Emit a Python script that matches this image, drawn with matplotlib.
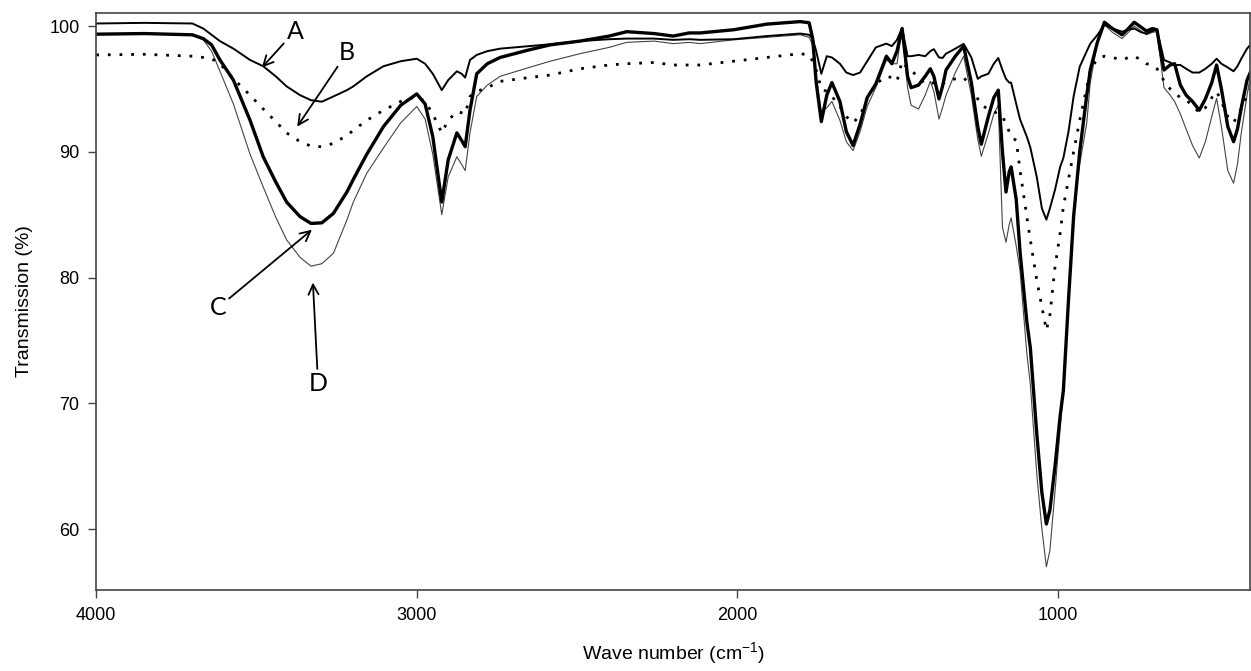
import numpy as np
import matplotlib.pyplot as plt

# FTIR transmission spectra, four samples A-D

wavenumber = [4000, 3850, 3700, 3666, 3640, 3614, 3572, 3520, 3479, 3440, 3406, 3364, 3330, 3296,
              3260, 3218, 3198, 3156, 3104, 3050, 3000, 2974, 2950, 2922, 2902, 2875, 2860, 2849,
              2834, 2813, 2780, 2740, 2650, 2584, 2491, 2400, 2345, 2260, 2200, 2150, 2116, 2012,
              1908, 1804, 1776, 1765, 1754, 1738, 1721, 1705, 1680, 1660, 1639, 1617, 1595, 1568,
              1535, 1518, 1502, 1486, 1469, 1458, 1435, 1414, 1398, 1387, 1371, 1360, 1349, 1320,
              1294, 1270, 1250, 1239, 1217, 1200, 1186, 1173, 1162, 1152, 1146, 1130, 1118, 1097,
              1086, 1066, 1050, 1036, 1025, 1009, 993, 983, 967, 951, 932, 910, 899, 877,
              855, 830, 800, 780, 762, 740, 724, 705, 691, 680, 669, 650, 636, 618,
              600, 580, 559, 540, 520, 505, 490, 470, 452, 440, 428, 410, 400]

trans_A = [100.2, 100.25, 100.2, 99.8, 99.3, 98.8, 98.2, 97.3, 96.8, 96.0, 95.2, 94.5, 94.1, 93.98,
           94.4, 94.9, 95.2, 96.0, 96.8, 97.2, 97.4, 97.0, 96.2, 94.9, 95.7, 96.4, 96.2, 95.9,
           97.3, 97.7, 98.0, 98.2, 98.4, 98.55, 98.8, 98.95, 99.0, 99.0, 98.9, 98.95, 98.9, 98.95,
           99.2, 99.4, 99.3, 99.0, 98.0, 96.2, 97.6, 97.5, 97.0, 96.3, 96.1, 96.3, 97.2, 98.3,
           98.6, 98.4, 98.9, 99.84, 97.6, 97.6, 97.7, 97.6, 98.0, 98.16, 97.5, 97.46, 97.8, 98.2,
           98.58, 97.5, 95.8, 96.0, 96.2, 97.0, 97.46, 96.5, 95.8, 95.5, 95.5, 93.8, 92.57, 91.2,
           90.34, 88.0, 85.5, 84.6, 85.5, 86.98, 88.8, 89.5, 91.6, 94.4, 96.76, 98.0, 98.6, 99.28,
           100.1, 99.8, 99.55, 99.7, 99.8, 99.5, 99.4, 99.6, 99.7, 98.5, 97.3, 97.1, 96.9, 96.9,
           96.6, 96.3, 96.3, 96.6, 97.0, 97.4, 97.0, 96.7, 96.4, 96.8, 97.4, 98.2, 98.5]

trans_B = [97.7, 97.75, 97.6, 97.5, 97.4, 97.0, 95.8, 94.5, 93.4, 92.4, 91.5, 90.8, 90.45, 90.4,
           90.67, 91.3, 91.7, 92.5, 93.3, 94.0, 94.4, 94.0, 93.0, 91.5, 92.5, 93.2, 93.1, 93.0,
           94.4, 94.8, 95.1, 95.6, 95.9, 96.1, 96.6, 96.9, 97.0, 97.1, 96.9, 96.9, 96.9, 97.2,
           97.5, 97.8, 97.7, 97.2, 96.5, 95.0, 94.8, 94.4, 93.6, 92.8, 92.3, 92.9, 94.2, 95.4,
           96.0, 95.9, 95.6, 97.2, 96.6, 96.5, 95.9, 95.4, 95.4, 95.5, 95.3, 95.4, 95.6, 95.8,
           95.9, 95.2, 94.2, 93.7, 93.4, 93.2, 93.0, 92.85, 92.2, 91.6, 91.2, 90.9, 88.5, 84.84,
           83.0, 79.8, 77.68, 75.8, 77.0, 80.86, 83.52, 85.63, 87.8, 90.0, 92.5, 95.1, 96.5, 97.4,
           97.6, 97.5, 97.3, 97.5, 97.6, 97.3, 97.0, 96.9, 96.6, 96.2, 95.6, 95.0, 94.7, 94.3,
           94.1, 93.7, 93.1, 93.5, 94.3, 94.8, 94.0, 92.8, 92.3, 92.9, 93.4, 94.5, 95.0]

trans_C = [99.35, 99.4, 99.3, 99.0, 98.5, 97.3, 95.7, 92.5, 89.6, 87.6, 86.0, 84.84, 84.3, 84.35,
           85.1, 86.8, 87.8, 89.8, 92.0, 93.7, 94.6, 93.8, 91.2, 86.0, 89.35, 91.5, 90.9, 90.4,
           93.3, 96.2, 97.0, 97.5, 98.1, 98.5, 98.8, 99.2, 99.55, 99.4, 99.2, 99.45, 99.45, 99.7,
           100.15, 100.35, 100.26, 99.0, 95.5, 92.4, 94.5, 95.5, 94.0, 91.6, 90.5, 92.2, 94.3, 95.4,
           97.6, 97.0, 98.0, 99.8, 96.0, 95.1, 95.3, 96.0, 96.6, 96.0, 94.2, 95.2, 96.5, 97.6,
           98.4, 95.5, 92.0, 90.6, 92.8, 94.3, 94.9, 90.0, 86.8, 88.4, 88.8, 86.2, 82.0, 76.5,
           74.4, 67.6, 62.9, 60.4, 61.5, 65.0, 69.0, 71.0, 78.2, 84.84, 90.0, 94.5, 96.5, 98.7,
           100.3, 99.8, 99.3, 99.8, 100.3, 99.9, 99.6, 99.8, 99.7, 98.0, 96.5, 96.9, 97.0, 95.3,
           94.5, 94.0, 93.3, 94.2, 95.5, 96.9, 95.0, 92.0, 90.8, 91.8, 93.5, 95.7, 96.3]

trans_D = [99.35, 99.4, 99.25, 98.9, 98.0, 96.4, 93.8, 89.8, 87.2, 84.8, 83.0, 81.6, 80.9, 81.1,
           81.93, 84.57, 86.0, 88.29, 90.3, 92.3, 93.6, 92.6, 89.8, 85.0, 88.0, 89.6, 89.0, 88.5,
           91.5, 94.4, 95.3, 96.0, 96.7, 97.2, 97.8, 98.3, 98.7, 98.8, 98.6, 98.7, 98.6, 98.9,
           99.1, 99.3, 99.1, 98.5, 96.0, 93.2, 93.5, 94.0, 92.5, 90.8, 90.1, 91.6, 93.6, 95.1,
           97.3, 97.0, 97.0, 99.8, 95.1, 93.7, 93.4, 94.5, 95.6, 94.8, 92.6, 93.5, 94.5, 96.3,
           97.6, 94.5, 91.0, 89.64, 91.45, 93.0, 93.7, 84.0, 82.8, 84.2, 84.75, 82.5, 80.5, 74.0,
           71.5, 64.4, 60.0, 57.0, 58.3, 63.0, 68.0, 71.0, 79.0, 85.5, 89.0, 92.3, 95.5, 98.7,
           100.1, 99.5, 99.0, 99.5, 100.0, 99.6, 99.3, 99.5, 99.55, 97.3, 95.1, 94.5, 94.0, 93.0,
           91.8, 90.5, 89.5, 90.8, 92.8, 94.25, 92.0, 88.5, 87.5, 89.0, 91.5, 94.5, 96.0]

x_ticks = [4000, 3000, 2000, 1000]
y_ticks = [60, 70, 80, 90, 100]

plt.rcParams['font.family'] = ['Liberation Sans', 'DejaVu Sans']
plt.rcParams['mathtext.default'] = 'regular'

fig = plt.figure(figsize=(12.51, 6.71), dpi=100)
ax = fig.add_axes([0.0769, 0.1207, 0.9225, 0.8604])

ax.plot(wavenumber, trans_D, color='#444444', lw=0.8)
ax.plot(wavenumber, trans_B, color='black', lw=2.0, linestyle=(0, (1, 3.2)))
ax.plot(wavenumber, trans_C, color='black', lw=2.4)
ax.plot(wavenumber, trans_A, color='black', lw=1.4)

ax.set_xlim(4000, 400)
ax.set_ylim(55.15, 101.06)
ax.set_xticks(x_ticks)
ax.set_yticks(y_ticks)
ax.tick_params(axis='both', direction='out', length=6, width=1, color='#444444',
               labelsize=13, pad=6, top=False, right=False)
for s in ax.spines.values():
    s.set_color('#444444')
    s.set_linewidth(1.2)

ax.set_xlabel('Wave number (cm$^{-1}$)', fontsize=14, labelpad=12)
ax.set_ylabel('Transmission (%)', fontsize=14, labelpad=12)

# letters and arrows
arrow = dict(arrowstyle='->', color='black', lw=1.3, shrinkA=0, shrinkB=0)
lab = dict(fontsize=18, family=['Lato', 'DejaVu Sans'], ha='center', va='center')
ax.annotate('A', xy=(3483, 96.7), xytext=(3380, 99.6), arrowprops=arrow, **lab)
ax.annotate('B', xy=(3373, 92.0), xytext=(3217, 97.9), arrowprops=arrow, **lab)
ax.annotate('C', xy=(3327, 83.8), xytext=(3620, 77.6), arrowprops=arrow, **lab)
ax.annotate('D', xy=(3324, 79.6), xytext=(3308, 71.6), arrowprops=arrow, **lab)

fig.savefig('out.png', dpi=100)
